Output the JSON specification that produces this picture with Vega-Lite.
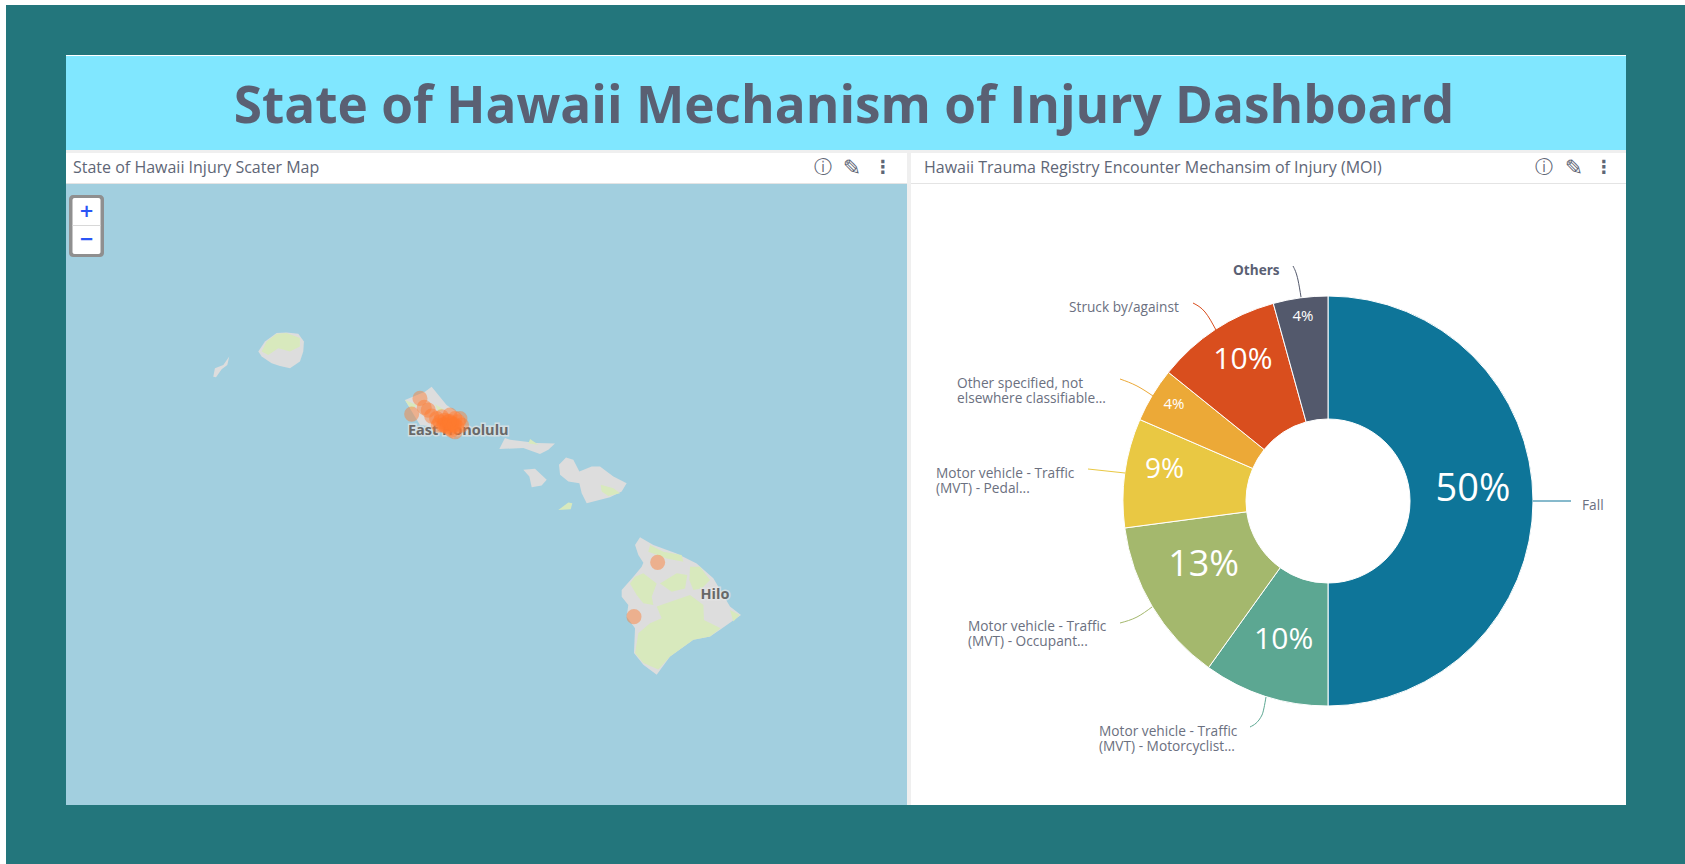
{"$schema":"https://vega.github.io/schema/vega-lite/v6.json","background":"#ffffff","padding":{"left":6,"top":5,"right":0,"bottom":0},"config":{"view":{"stroke":null},"font":"Open Sans","concat":{"spacing":0}},"spacing":0,"vconcat":[
{"width":1679,"height":50,"view":{"fill":"#23767c"},"data":{"values":[]},"mark":{"type":"text"},"encoding":{}},
{"spacing":0,"hconcat":[
{"width":60,"height":750,"view":{"fill":"#23767c"},"data":{"values":[]},"mark":{"type":"text"},"encoding":{}},
{"spacing":0,"vconcat":[
{"width":1560,"height":1,"view":{"fill":"#ffffff"},"data":{"values":[]},"mark":{"type":"text"},"encoding":{}},
{"width":1560,"height":94,"view":{"fill":"#80e7ff"},"data":{"values":[{"title":"State of Hawaii Mechanism of Injury Dashboard"}]},"mark":{"type":"text","font":"Open Sans","fontWeight":"bold","fontSize":51.3,"color":"#5a6073","align":"center","baseline":"middle","dy":5},"encoding":{"text":{"field":"title"},"x":{"datum":778,"type":"quantitative","scale":{"domain":[0,1560],"nice":false},"axis":null}}},
{"width":1560,"height":3,"view":{"fill":"#efefef"},"data":{"values":[]},"mark":{"type":"text"},"encoding":{}},
{"spacing":0,"hconcat":[
{"spacing":0,"vconcat":[
{"width":841,"height":30,"view":{"fill":"#ffffff"},"data":{"values":[{"panel":"State of Hawaii Injury Scater Map"}]},"layer":[
{"mark":{"type":"text","align":"left","baseline":"middle","fontSize":16,"color":"#5e6676"},"encoding":{"text":{"field":"panel"},"x":{"datum":7,"type":"quantitative","scale":{"domain":[0,841],"nice":false},"axis":null}}},
{"mark":{"type":"text","text":"ⓘ","font":"DejaVu Sans","fontSize":18,"color":"#5e6676","align":"center","baseline":"middle"},"encoding":{"x":{"datum":757,"type":"quantitative"}}},
{"mark":{"type":"text","text":"✎","font":"DejaVu Sans","fontSize":22,"color":"#5e6676","align":"center","baseline":"middle"},"encoding":{"x":{"datum":786,"type":"quantitative"}}},
{"mark":{"type":"text","text":"⋮","font":"DejaVu Sans","fontSize":18,"fontWeight":"bold","color":"#5e6676","align":"center","baseline":"middle"},"encoding":{"x":{"datum":817,"type":"quantitative"}}}
]},
{"width":841,"height":1,"view":{"fill":"#e4e4e4"},"data":{"values":[]},"mark":{"type":"text"},"encoding":{}},
{"width":841,"height":621,"view":{"fill":"#a2cfdf"},"layer":[
{"data":{"values":[
{"type":"Feature","properties":{"island":"Hawaii"},"geometry":{"type":"Polygon","coordinates":[[[-155.846,20.269],[-155.709,20.195],[-155.470,20.114],[-155.265,20.018],[-155.094,19.874],[-154.923,19.601],[-154.810,19.520],[-155.025,19.376],[-155.128,19.312],[-155.299,19.280],[-155.538,19.119],[-155.675,18.942],[-155.812,19.039],[-155.908,19.151],[-155.897,19.392],[-155.983,19.504],[-155.966,19.617],[-156.034,19.697],[-156.034,19.761],[-155.914,19.890],[-155.829,19.986],[-155.812,20.025],[-155.863,20.098],[-155.897,20.195],[-155.846,20.269]]]}},
{"type":"Feature","properties":{"island":"Maui"},"geometry":{"type":"Polygon","coordinates":[[[-156.605,21.036],[-156.530,21.014],[-156.468,20.901],[-156.342,20.949],[-156.256,20.949],[-156.119,20.853],[-155.983,20.789],[-156.034,20.709],[-156.154,20.654],[-156.393,20.596],[-156.444,20.693],[-156.468,20.789],[-156.581,20.805],[-156.666,20.869],[-156.677,20.965],[-156.605,21.036]]]}},
{"type":"Feature","properties":{"island":"Molokai"},"geometry":{"type":"Polygon","coordinates":[[[-157.231,21.222],[-157.179,21.206],[-156.906,21.174],[-156.718,21.168],[-156.786,21.110],[-156.872,21.068],[-157.043,21.126],[-157.289,21.116],[-157.231,21.222]]]}},
{"type":"Feature","properties":{"island":"Lanai"},"geometry":{"type":"Polygon","coordinates":[[[-157.043,20.917],[-156.923,20.927],[-156.803,20.821],[-156.855,20.766],[-156.957,20.750],[-156.981,20.853],[-157.043,20.917]]]}},
{"type":"Feature","properties":{"island":"Kauai"},"geometry":{"type":"Polygon","coordinates":[[[-159.573,22.222],[-159.471,22.228],[-159.351,22.215],[-159.293,22.142],[-159.300,22.046],[-159.334,21.951],[-159.436,21.887],[-159.539,21.909],[-159.624,21.935],[-159.727,21.998],[-159.761,22.046],[-159.693,22.142],[-159.573,22.222]]]}},
{"type":"Feature","properties":{"island":"Niihau"},"geometry":{"type":"Polygon","coordinates":[[[-160.059,21.998],[-160.079,21.919],[-160.137,21.877],[-160.195,21.801],[-160.223,21.807],[-160.206,21.887],[-160.120,21.919],[-160.059,21.998]]]}},
{"type":"Feature","properties":{"island":"Oahu"},"geometry":{"type":"Polygon","coordinates":[[[-157.983,21.711],[-157.830,21.536],[-157.659,21.424],[-157.641,21.329],[-157.761,21.217],[-157.966,21.329],[-158.103,21.345],[-158.257,21.584],[-158.052,21.664],[-157.983,21.711]]]}}
]},"mark":{"type":"geoshape","fill":"#dddddd","stroke":null},"projection":{"type":"mercator","scale":5586,"center":[-157,20.5],"translate":[461.5,329.3]}},
{"data":{"values":[
{"type":"Feature","properties":{"area":"Hawaii south"},"geometry":{"type":"Polygon","coordinates":[[[-155.675,19.601],[-155.333,19.713],[-155.196,19.617],[-155.190,19.472],[-155.019,19.392],[-155.128,19.312],[-155.299,19.280],[-155.538,19.119],[-155.658,18.991],[-155.812,19.055],[-155.897,19.151],[-155.863,19.344],[-155.743,19.440],[-155.624,19.488],[-155.675,19.601]]]}},
{"type":"Feature","properties":{"area":"Hawaii saddle"},"geometry":{"type":"Polygon","coordinates":[[[-155.641,19.825],[-155.470,19.922],[-155.361,19.906],[-155.384,19.777],[-155.521,19.745],[-155.641,19.825]]]}},
{"type":"Feature","properties":{"area":"Hawaii west"},"geometry":{"type":"Polygon","coordinates":[[[-155.897,19.890],[-155.812,19.922],[-155.675,19.825],[-155.726,19.697],[-155.709,19.617],[-155.812,19.633],[-155.880,19.713],[-155.949,19.825],[-155.897,19.890]]]}},
{"type":"Feature","properties":{"area":"Hawaii northeast"},"geometry":{"type":"Polygon","coordinates":[[[-155.333,19.986],[-155.231,19.986],[-155.128,19.858],[-155.213,19.777],[-155.299,19.761],[-155.340,19.858],[-155.333,19.986]]]}},
{"type":"Feature","properties":{"area":"Hawaii north"},"geometry":{"type":"Polygon","coordinates":[[[-155.743,20.195],[-155.607,20.131],[-155.419,20.098],[-155.402,20.034],[-155.572,20.066],[-155.761,20.131],[-155.743,20.195]]]}},
{"type":"Feature","properties":{"area":"Hawaii east"},"geometry":{"type":"Polygon","coordinates":[[[-154.923,19.569],[-154.823,19.520],[-154.889,19.456],[-154.923,19.569]]]}},
{"type":"Feature","properties":{"area":"Maui"},"geometry":{"type":"Polygon","coordinates":[[[-156.249,20.773],[-156.119,20.741],[-156.051,20.693],[-156.171,20.667],[-156.239,20.709],[-156.249,20.773]]]}},
{"type":"Feature","properties":{"area":"Molokai"},"geometry":{"type":"Polygon","coordinates":[[[-156.974,21.213],[-156.889,21.158],[-156.991,21.168],[-156.974,21.213]]]}},
{"type":"Feature","properties":{"area":"Kahoolawe"},"geometry":{"type":"Polygon","coordinates":[[[-156.684,20.532],[-156.581,20.603],[-156.540,20.596],[-156.557,20.538],[-156.684,20.532]]]}},
{"type":"Feature","properties":{"area":"Kauai"},"geometry":{"type":"Polygon","coordinates":[[[-159.676,22.142],[-159.573,22.215],[-159.471,22.222],[-159.334,22.174],[-159.334,22.094],[-159.436,22.046],[-159.556,22.078],[-159.659,22.014],[-159.727,22.046],[-159.676,22.142]]]}},
{"type":"Feature","properties":{"area":"Oahu west"},"geometry":{"type":"Polygon","coordinates":[[[-158.257,21.584],[-158.137,21.536],[-158.188,21.488],[-158.257,21.584]]]}},
{"type":"Feature","properties":{"area":"Oahu east"},"geometry":{"type":"Polygon","coordinates":[[[-157.949,21.545],[-157.857,21.494],[-157.915,21.472],[-157.949,21.545]]]}}
]},"mark":{"type":"geoshape","fill":"#d8e9bd","stroke":null},"projection":{"type":"mercator","scale":5586,"center":[-157,20.5],"translate":[461.5,329.3]}},
{"data":{"values":[{"place":"East Honolulu","lon":-157.710,"lat":21.290},{"place":"Hilo","lon":-155.077,"lat":19.713}]},"mark":{"type":"text","fontWeight":"bold","fontSize":14.5,"color":"#e6e6e6","stroke":"#e6e6e6","strokeWidth":3,"opacity":0.7,"align":"center","baseline":"middle"},"encoding":{"longitude":{"field":"lon","type":"quantitative"},"latitude":{"field":"lat","type":"quantitative"},"text":{"field":"place"}},"projection":{"type":"mercator","scale":5586,"center":[-157,20.5],"translate":[461.5,329.3]}},
{"data":{"values":[{"place":"East Honolulu","lon":-157.710,"lat":21.290},{"place":"Hilo","lon":-155.077,"lat":19.713}]},"mark":{"type":"text","fontWeight":"bold","fontSize":14.5,"color":"#686868","align":"center","baseline":"middle"},"encoding":{"longitude":{"field":"lon","type":"quantitative"},"latitude":{"field":"lat","type":"quantitative"},"text":{"field":"place"}},"projection":{"type":"mercator","scale":5586,"center":[-157,20.5],"translate":[461.5,329.3]}},
{"data":{"values":[{"lon":-155.665,"lat":20.028},{"lon":-155.908,"lat":19.504},{"lon":-158.103,"lat":21.600},{"lon":-158.188,"lat":21.450},{"lon":-158.059,"lat":21.514},{"lon":-158.018,"lat":21.488},{"lon":-157.983,"lat":21.431},{"lon":-157.932,"lat":21.408},{"lon":-157.898,"lat":21.376},{"lon":-157.864,"lat":21.345},{"lon":-157.830,"lat":21.329},{"lon":-157.795,"lat":21.440},{"lon":-157.744,"lat":21.408},{"lon":-157.710,"lat":21.376},{"lon":-157.744,"lat":21.281},{"lon":-157.795,"lat":21.313},{"lon":-157.676,"lat":21.345},{"lon":-157.847,"lat":21.392},{"lon":-157.915,"lat":21.345},{"lon":-157.761,"lat":21.345},{"lon":-157.727,"lat":21.329},{"lon":-157.693,"lat":21.408},{"lon":-157.881,"lat":21.424},{"lon":-157.812,"lat":21.376},{"lon":-157.778,"lat":21.297},{"lon":-157.850,"lat":21.350},{"lon":-157.820,"lat":21.340},{"lon":-157.780,"lat":21.360},{"lon":-157.750,"lat":21.350},{"lon":-157.800,"lat":21.380}]},"mark":{"type":"circle","color":"#ff7a2e","opacity":0.45,"size":227},"encoding":{"longitude":{"field":"lon","type":"quantitative"},"latitude":{"field":"lat","type":"quantitative"}},"projection":{"type":"mercator","scale":5586,"center":[-157,20.5],"translate":[461.5,329.3]}},
{"data":{"values":[{}]},"mark":{"type":"rect","color":"#8f8f8f","cornerRadius":4},"encoding":{"x":{"datum":3,"type":"quantitative","scale":{"domain":[0,841],"nice":false},"axis":null},"x2":{"datum":38},"y":{"datum":11,"type":"quantitative","scale":{"domain":[0,621],"reverse":true,"nice":false},"axis":null},"y2":{"datum":73}}},
{"data":{"values":[{}]},"mark":{"type":"rect","color":"#ffffff","cornerRadius":2},"encoding":{"x":{"datum":6.5,"type":"quantitative"},"x2":{"datum":34.5},"y":{"datum":14,"type":"quantitative"},"y2":{"datum":70}}},
{"data":{"values":[{}]},"mark":{"type":"rule","color":"#d8d8d8"},"encoding":{"x":{"datum":6.5,"type":"quantitative"},"x2":{"datum":34.5},"y":{"datum":41.5,"type":"quantitative"}}},
{"data":{"values":[{}]},"mark":{"type":"text","text":"+","fontSize":18,"fontWeight":"bold","font":"DejaVu Sans","color":"#2b55f5","align":"center","baseline":"middle"},"encoding":{"x":{"datum":20.5,"type":"quantitative"},"y":{"datum":28,"type":"quantitative"}}},
{"data":{"values":[{}]},"mark":{"type":"text","text":"−","fontSize":18,"fontWeight":"bold","font":"DejaVu Sans","color":"#2b55f5","align":"center","baseline":"middle"},"encoding":{"x":{"datum":20.5,"type":"quantitative"},"y":{"datum":56,"type":"quantitative"}}}
]}
]},
{"width":4,"height":652,"view":{"fill":"#efefef"},"data":{"values":[]},"mark":{"type":"text"},"encoding":{}},
{"spacing":0,"vconcat":[
{"width":715,"height":30,"view":{"fill":"#ffffff"},"data":{"values":[{"panel":"Hawaii Trauma Registry Encounter Mechansim of Injury (MOI)"}]},"layer":[
{"mark":{"type":"text","align":"left","baseline":"middle","fontSize":16,"color":"#5e6676"},"encoding":{"text":{"field":"panel"},"x":{"datum":13,"type":"quantitative","scale":{"domain":[0,715],"nice":false},"axis":null}}},
{"mark":{"type":"text","text":"ⓘ","font":"DejaVu Sans","fontSize":18,"color":"#5e6676","align":"center","baseline":"middle"},"encoding":{"x":{"datum":633,"type":"quantitative"}}},
{"mark":{"type":"text","text":"✎","font":"DejaVu Sans","fontSize":22,"color":"#5e6676","align":"center","baseline":"middle"},"encoding":{"x":{"datum":663,"type":"quantitative"}}},
{"mark":{"type":"text","text":"⋮","font":"DejaVu Sans","fontSize":18,"fontWeight":"bold","color":"#5e6676","align":"center","baseline":"middle"},"encoding":{"x":{"datum":693,"type":"quantitative"}}}
]},
{"width":715,"height":1,"view":{"fill":"#e4e4e4"},"data":{"values":[]},"mark":{"type":"text"},"encoding":{}},
{"width":715,"height":621,"view":{"fill":"#ffffff"},"data":{"values":[{"moi":"Fall","i":1,"share":0.5},{"moi":"Motorcyclist","i":2,"share":0.099},{"moi":"Occupant","i":3,"share":0.13},{"moi":"Pedal","i":4,"share":0.086},{"moi":"Other","i":5,"share":0.043},{"moi":"Struck","i":6,"share":0.099},{"moi":"Others","i":7,"share":0.043}]},"layer":[
{"mark":{"type":"arc","innerRadius":82,"outerRadius":205,"stroke":"#ffffff","strokeWidth":1},"encoding":{"theta":{"field":"share","type":"quantitative","stack":true,"scale":{"domain":[0,1]}},"order":{"field":"i","type":"quantitative"},"color":{"field":"moi","type":"nominal","legend":null,"scale":{"domain":["Fall","Motorcyclist","Occupant","Pedal","Other","Struck","Others"],"range":["#0e7599","#5ca792","#a4b86d","#e9c843","#eca937","#d94e1e","#53596c"]}},"x":{"datum":417,"type":"quantitative","scale":{"domain":[0,715],"nice":false},"axis":null},"y":{"datum":317,"type":"quantitative","scale":{"domain":[0,621],"reverse":true,"nice":false},"axis":null}}},
{"mark":{"type":"text","color":"#ffffff","align":"center","baseline":"middle","radius":{"expr":"{'Fall':145,'Motorcyclist':145,'Occupant':145,'Pedal':165,'Other':180,'Struck':155,'Others':186}[datum.moi]"},"dy":{"expr":"{'Fall':-11,'Motorcyclist':1,'Occupant':-11,'Pedal':-8,'Other':-4,'Struck':-11,'Others':-1}[datum.moi]"}},"encoding":{"theta":{"field":"share","type":"quantitative","stack":true},"order":{"field":"i","type":"quantitative"},"text":{"field":"share","type":"quantitative","format":".0%"},"size":{"field":"share","type":"quantitative","legend":null,"scale":{"domain":[0.043,0.086,0.099,0.13,0.5],"range":[15,28,30,36,38]}},"x":{"datum":417,"type":"quantitative"},"y":{"datum":317,"type":"quantitative"}}},
{"data":{"values":[{"moi":"Others","seq":1,"u":382,"v":82},{"moi":"Others","seq":2,"u":387,"v":96},{"moi":"Others","seq":3,"u":390,"v":113},{"moi":"Struck","seq":1,"u":282,"v":119},{"moi":"Struck","seq":2,"u":294,"v":128},{"moi":"Struck","seq":3,"u":305,"v":146},{"moi":"Other","seq":1,"u":209,"v":195},{"moi":"Other","seq":2,"u":226,"v":202},{"moi":"Other","seq":3,"u":242,"v":212},{"moi":"Pedal","seq":1,"u":177,"v":285},{"moi":"Pedal","seq":2,"u":214,"v":289},{"moi":"Occupant","seq":1,"u":209,"v":439},{"moi":"Occupant","seq":2,"u":226,"v":433},{"moi":"Occupant","seq":3,"u":241,"v":423},{"moi":"Motorcyclist","seq":1,"u":339,"v":543},{"moi":"Motorcyclist","seq":2,"u":351,"v":531},{"moi":"Motorcyclist","seq":3,"u":355,"v":513},{"moi":"Fall","seq":1,"u":622,"v":317},{"moi":"Fall","seq":2,"u":660,"v":317}]},"mark":{"type":"line","strokeWidth":1,"interpolate":"monotone"},"encoding":{"x":{"field":"u","type":"quantitative"},"y":{"field":"v","type":"quantitative"},"color":{"field":"moi","type":"nominal"},"order":{"field":"seq","type":"quantitative"}}},
{"data":{"values":[{"label":"Struck by/against","u":158,"v":116.5},{"label":"Other specified, not\nelsewhere classifiable...","u":46,"v":192.5},{"label":"Motor vehicle - Traffic\n(MVT) - Pedal...","u":25,"v":282.5},{"label":"Motor vehicle - Traffic\n(MVT) - Occupant...","u":57,"v":435.5},{"label":"Motor vehicle - Traffic\n(MVT) - Motorcyclist...","u":188,"v":540.5},{"label":"Fall","u":671,"v":314.5}]},"mark":{"type":"text","align":"left","baseline":"top","fontSize":13.7,"lineHeight":15,"lineBreak":"\n","color":"#6b7080"},"encoding":{"x":{"field":"u","type":"quantitative"},"y":{"field":"v","type":"quantitative"},"text":{"field":"label"}}},
{"data":{"values":[{"label":"Others","u":322,"v":79.5}]},"mark":{"type":"text","align":"left","baseline":"top","fontSize":13.6,"fontWeight":"bold","color":"#5a6073"},"encoding":{"x":{"field":"u","type":"quantitative"},"y":{"field":"v","type":"quantitative"},"text":{"field":"label"}}}
]}
]}
]}
]},
{"width":59,"height":750,"view":{"fill":"#23767c"},"data":{"values":[]},"mark":{"type":"text"},"encoding":{}}
]},
{"width":1679,"height":59,"view":{"fill":"#23767c"},"data":{"values":[]},"mark":{"type":"text"},"encoding":{}}
]}
